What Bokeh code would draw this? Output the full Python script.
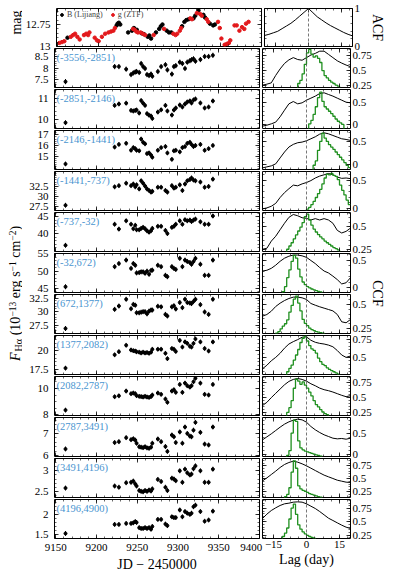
import numpy as np
from bokeh.plotting import figure
from bokeh.layouts import row, column
from bokeh.models import (Range1d, LinearAxis, FixedTicker, Span, Label,
                          Legend, LegendItem, ColumnDataSource)
from bokeh.core.properties import value, field
from bokeh.embed import file_html
from bokeh.resources import INLINE

FONT = "Liberation Serif"

# ---------------- photometry (top panel) ----------------
B_JD = [9162.0, 9222.3, 9223.5, 9225.0, 9226.7, 9236.4, 9241.2, 9243.5, 9247.0, 9253.0,
        9256.0, 9260.5, 9262.4, 9264.5, 9270.5, 9274.5, 9276.5, 9278.5, 9283.7, 9286.5,
        9289.4, 9302.6, 9305.4, 9307.8, 9310.6, 9316.6, 9318.7, 9322.7, 9328.7, 9330.7,
        9336.7, 9340.7, 9342.8]
B_MAG = [12.90, 12.76, 12.74, 12.73, 12.75, 12.84, 12.82, 12.79, 12.81, 12.85,
         12.86, 12.89, 12.875, 12.91, 12.84, 12.80, 12.77, 12.75, 12.82, 12.84,
         12.84, 12.77, 12.72, 12.70, 12.69, 12.68, 12.65, 12.59, 12.64, 12.67,
         12.74, 12.76, 12.75]
G_JD = [9152.0, 9155.2, 9158.1, 9166.0, 9168.9, 9171.3, 9174.1, 9176.9, 9182.2, 9184.9,
        9187.3, 9188.9, 9195.4, 9198.2, 9200.2, 9204.2, 9208.2, 9212.3, 9215.4, 9218.3,
        9220.2, 9242.4, 9244.3, 9246.4, 9248.4, 9251.6, 9254.5, 9257.2, 9267.7, 9280.5,
        9291.8, 9294.6, 9296.6, 9299.8, 9301.4, 9312.7, 9314.7, 9320.7, 9324.7, 9326.7,
        9332.8, 9334.7, 9346.7, 9348.8, 9350.8, 9354.8, 9357.6, 9360.0, 9361.7, 9366.9,
        9369.6, 9372.9, 9376.1, 9378.9, 9381.0, 9384.1]
G_MAG = [12.96, 12.95, 12.94, 12.89, 12.87, 12.855, 12.89, 12.92, 12.87, 12.855,
         12.87, 12.84, 12.90, 12.93, 12.94, 12.89, 12.855, 12.84, 12.83, 12.82,
         12.79, 12.80, 12.81, 12.83, 12.84, 12.84, 12.855, 12.87, 12.87, 12.80,
         12.855, 12.87, 12.855, 12.82, 12.79, 12.68, 12.69, 12.62, 12.63, 12.65,
         12.69, 12.72, 12.72, 12.79, 12.91, 12.98, 12.97, 12.96, 12.93, 12.76,
         12.76, 12.82, 12.78, 12.80, 12.74, 12.72]
B_ERR = 0.008
G_ERR = 0.006

# ---------------- H-alpha velocity-bin light curves ----------------
HA_JD = [9162.0, 9222.3, 9227.5, 9236.4, 9242.4, 9245.2, 9247.6, 9249.2, 9252.4, 9254.8,
         9257.2, 9259.6, 9262.0, 9264.5, 9266.9, 9268.5, 9275.3, 9279.3, 9284.6, 9287.0,
         9292.5, 9295.0, 9297.3, 9302.2, 9305.4, 9308.6, 9311.4, 9314.6, 9316.6, 9319.0,
         9321.4, 9327.5, 9332.7, 9337.6, 9342.8]

BIN_LABELS = ["(-3556,-2851)", "(-2851,-2146)", "(-2146,-1441)", "(-1441,-737)",
              "(-737,-32)", "(-32,672)", "(672,1377)", "(1377,2082)",
              "(2082,2787)", "(2787,3491)", "(3491,4196)", "(4196,4900)"]

FLUX_01 = [7.43, 8.07, 8.07, 7.96, 7.73, 7.80, 7.84, 7.86, 7.82, 8.20, 8.07, 7.99, 7.73, 7.69, 7.75, 7.66, 7.86, 8.07, 8.15, 7.93, 7.75, 8.07, 8.11, 8.26, 8.20, 7.99, 8.26, 8.32, 8.36, 8.40, 8.30, 8.37, 8.50, 8.50, 8.55]
FLUX_02 = [9.82, 10.68, 10.75, 10.79, 10.43, 10.40, 10.43, 10.45, 10.30, 10.92, 10.79, 10.68, 10.27, 10.19, 10.15, 10.03, 10.35, 10.46, 10.68, 10.40, 10.20, 10.45, 10.55, 10.70, 10.60, 10.75, 10.85, 10.90, 10.80, 10.95, 11.00, 10.80, 10.55, 10.60, 10.90]
FLUX_03 = [14.27, 15.85, 16.10, 16.20, 15.55, 15.80, 15.70, 15.55, 15.50, 16.60, 16.30, 16.15, 15.24, 15.30, 15.10, 14.90, 15.55, 15.80, 15.90, 15.30, 14.70, 15.50, 15.55, 15.40, 15.80, 15.90, 16.20, 16.30, 16.10, 15.90, 16.00, 16.10, 15.55, 15.70, 16.00]
FLUX_04 = [27.75, 32.3, 32.6, 33.2, 32.6, 33.0, 32.3, 32.8, 31.8, 33.8, 33.2, 32.5, 31.8, 31.4, 31.0, 31.2, 32.2, 32.2, 31.4, 31.0, 32.6, 32.0, 32.2, 32.8, 31.4, 33.0, 33.8, 34.1, 34.5, 34.0, 33.8, 33.5, 32.2, 32.4, 34.2]
FLUX_05 = [36.7, 42.8, 41.4, 43.8, 42.8, 41.5, 42.5, 41.2, 41.2, 41.6, 41.9, 41.5, 40.9, 40.5, 40.9, 41.6, 42.2, 42.2, 41.0, 40.1, 41.9, 42.2, 42.8, 43.8, 42.8, 44.1, 43.8, 44.0, 43.6, 44.0, 44.3, 43.5, 42.8, 42.8, 45.2]
FLUX_06 = [45.5, 51.3, 52.2, 53.2, 50.8, 52.2, 51.7, 49.5, 49.6, 49.8, 49.8, 49.4, 50.0, 49.1, 50.2, 50.3, 51.7, 51.3, 48.8, 48.4, 51.3, 50.8, 50.5, 53.7, 51.3, 53.2, 52.8, 52.5, 52.0, 52.8, 53.7, 52.0, 48.8, 48.8, 53.2]
FLUX_07 = [26.89, 30.43, 31.05, 32.3, 30.55, 31.35, 31.2, 29.8, 29.8, 29.9, 30.0, 30.0, 29.6, 30.1, 30.3, 30.3, 31.0, 30.9, 29.5, 29.2, 30.9, 31.1, 30.5, 31.7, 30.75, 32.3, 31.7, 31.6, 31.5, 31.9, 32.3, 31.3, 29.95, 29.5, 32.3]
FLUX_08 = [17.63, 19.44, 19.87, 20.74, 20.1, 20.0, 19.95, 19.85, 19.8, 19.7, 19.8, 19.7, 19.75, 19.65, 19.8, 20.2, 20.2, 20.2, 19.65, 18.92, 20.3, 20.2, 19.9, 21.4, 20.5, 21.2, 21.0, 20.6, 20.5, 21.0, 21.6, 21.2, 20.3, 19.96, 21.2]
FLUX_09 = [8.36, 9.37, 9.44, 9.8, 9.6, 9.65, 9.6, 9.45, 9.4, 9.38, 9.35, 9.4, 9.35, 9.32, 9.38, 9.5, 9.65, 9.55, 9.2, 8.95, 9.8, 9.9, 9.7, 10.3, 9.7, 10.4, 10.2, 10.1, 10.2, 10.5, 10.77, 10.4, 9.55, 9.5, 10.3]
FLUX_10 = [6.30, 6.59, 6.63, 6.81, 6.72, 6.76, 6.70, 6.56, 6.40, 6.38, 6.36, 6.40, 6.35, 6.33, 6.38, 6.56, 6.75, 6.63, 6.41, 6.19, 6.93, 6.85, 6.59, 7.07, 6.56, 7.29, 7.00, 6.88, 6.85, 7.15, 7.50, 7.05, 6.52, 6.48, 7.29]
FLUX_11 = [2.58, 2.63, 2.60, 2.71, 2.72, 2.75, 2.68, 2.63, 2.52, 2.50, 2.49, 2.52, 2.50, 2.53, 2.51, 2.56, 2.79, 2.74, 2.60, 2.52, 2.82, 2.80, 2.76, 3.00, 2.72, 3.04, 2.95, 2.90, 2.92, 3.05, 3.12, 3.00, 2.72, 2.72, 3.04]
FLUX_12 = [1.525, 1.75, 1.75, 1.775, 1.775, 1.79, 1.82, 1.80, 1.67, 1.65, 1.65, 1.67, 1.65, 1.67, 1.63, 1.70, 1.875, 1.875, 1.76, 1.72, 1.94, 1.92, 1.92, 2.11, 1.94, 2.07, 2.03, 2.0, 2.03, 2.19, 2.23, 2.07, 1.83, 1.86, 2.08]
FLUXES = [FLUX_01, FLUX_02, FLUX_03, FLUX_04, FLUX_05, FLUX_06,
          FLUX_07, FLUX_08, FLUX_09, FLUX_10, FLUX_11, FLUX_12]
FLUX_ERR = [0.11, 0.12, 0.22, 0.6, 0.7, 0.72, 0.46, 0.32, 0.18, 0.11, 0.06, 0.06]

# ---------------- ACF / CCF (lag grid, days) ----------------
LAGS = [-20, -18, -16, -14, -12, -10, -8, -6, -4, -2, 0, 2, 4, 6, 8, 10, 12, 14, 16, 18, 20]
ACF = [0.29, 0.32, 0.36, 0.40, 0.47, 0.54, 0.61, 0.70, 0.80, 0.90, 1.0, 0.89, 0.78, 0.70, 0.62, 0.55, 0.49, 0.43, 0.37, 0.32, 0.28]
CCF_01 = [0.25, 0.266, 0.288, 0.413, 0.522, 0.614, 0.674, 0.712, 0.68, 0.668, 0.712, 0.755, 0.783, 0.82, 0.82, 0.766, 0.712, 0.658, 0.62, 0.587, 0.56]
CCF_02 = [-0.028, -0.007, 0.023, 0.06, 0.178, 0.324, 0.464, 0.515, 0.464, 0.486, 0.545, 0.589, 0.634, 0.691, 0.707, 0.67, 0.634, 0.589, 0.545, 0.50, 0.486]
CCF_03 = [-0.071, -0.049, -0.027, 0.017, 0.148, 0.278, 0.387, 0.446, 0.482, 0.496, 0.525, 0.569, 0.613, 0.671, 0.70, 0.678, 0.642, 0.605, 0.569, 0.554, 0.533]
CCF_04 = [-0.006, 0.011, 0.04, 0.091, 0.195, 0.281, 0.35, 0.414, 0.402, 0.436, 0.46, 0.494, 0.54, 0.574, 0.597, 0.62, 0.597, 0.557, 0.534, 0.54, 0.529]
CCF_05 = [0.253, 0.264, 0.343, 0.397, 0.469, 0.541, 0.606, 0.638, 0.624, 0.602, 0.595, 0.577, 0.592, 0.577, 0.592, 0.577, 0.541, 0.462, 0.433, 0.451, 0.487]
CCF_06 = [0.303, 0.317, 0.352, 0.409, 0.479, 0.535, 0.571, 0.592, 0.592, 0.578, 0.55, 0.493, 0.437, 0.366, 0.303, 0.268, 0.211, 0.148, 0.07, 0.091, 0.183]
CCF_07 = [0.378, 0.395, 0.429, 0.477, 0.511, 0.538, 0.559, 0.573, 0.573, 0.566, 0.549, 0.508, 0.49, 0.474, 0.46, 0.446, 0.432, 0.395, 0.32, 0.31, 0.344]
CCF_08 = [0.34, 0.388, 0.45, 0.497, 0.554, 0.625, 0.682, 0.715, 0.743, 0.776, 0.781, 0.734, 0.706, 0.691, 0.682, 0.667, 0.644, 0.592, 0.53, 0.497, 0.516]
CCF_09 = [0.364, 0.42, 0.5, 0.573, 0.646, 0.719, 0.776, 0.81, 0.826, 0.81, 0.781, 0.736, 0.702, 0.662, 0.635, 0.618, 0.595, 0.567, 0.539, 0.516, 0.533]
CCF_10 = [0.351, 0.421, 0.492, 0.57, 0.648, 0.719, 0.773, 0.813, 0.836, 0.82, 0.765, 0.664, 0.586, 0.523, 0.469, 0.429, 0.39, 0.374, 0.383, 0.366, 0.39]
CCF_11 = [0.462, 0.52, 0.585, 0.65, 0.721, 0.779, 0.817, 0.844, 0.824, 0.792, 0.753, 0.708, 0.662, 0.617, 0.573, 0.54, 0.508, 0.475, 0.456, 0.437, 0.431]
CCF_12 = [0.564, 0.646, 0.714, 0.764, 0.808, 0.839, 0.851, 0.87, 0.876, 0.87, 0.839, 0.795, 0.751, 0.695, 0.633, 0.57, 0.527, 0.483, 0.44, 0.402, 0.377]
CCFS = [CCF_01, CCF_02, CCF_03, CCF_04, CCF_05, CCF_06,
        CCF_07, CCF_08, CCF_09, CCF_10, CCF_11, CCF_12]

# scaled CCCD histograms: 1-day bins, (left edge of first non-empty bin, heights)
CCCD_01 = (-4, [0.277, 0.33, 0.44, 0.60, 0.79, 0.85, 0.77, 0.72, 0.74, 0.70, 0.63, 0.495, 0.41, 0.37, 0.33, 0.30, 0.277, 0.25, 0.234])
CCCD_02 = (1, [0.023, 0.10, 0.23, 0.40, 0.60, 0.72, 0.52, 0.40, 0.35, 0.30, 0.25, 0.19, 0.13, 0.08, 0.045, 0.01])
CCCD_03 = (3, [-0.013, 0.082, 0.314, 0.51, 0.69, 0.584, 0.51, 0.439, 0.387, 0.337, 0.278, 0.22, 0.162, 0.104, 0.046, -0.013, -0.064])
CCCD_04 = (0, [-0.012, 0.022, 0.069, 0.126, 0.195, 0.264, 0.339, 0.436, 0.54, 0.609, 0.597, 0.62, 0.586, 0.569, 0.511, 0.414, 0.322, 0.241, 0.149, 0.069])
CCCD_05 = (-9, [0.253, 0.289, 0.325, 0.368, 0.412, 0.455, 0.498, 0.548, 0.613, 0.642, 0.577, 0.52, 0.476, 0.444, 0.415, 0.39, 0.368, 0.343, 0.325, 0.307, 0.289, 0.271, 0.26, 0.246])
CCCD_06 = (-11, [-0.071, 0.021, 0.183, 0.324, 0.479, 0.585, 0.535, 0.338, 0.197, 0.105, 0.056, 0.021, 0.0, -0.022, -0.036, -0.05, -0.064, -0.074])
CCCD_07 = (-14, [0.204, 0.22, 0.248, 0.276, 0.30, 0.34, 0.42, 0.488, 0.552, 0.584, 0.512, 0.432, 0.344, 0.304, 0.28, 0.256, 0.24, 0.23, 0.22, 0.214, 0.208, 0.204])
CCCD_08 = (-9, [0.298, 0.346, 0.39, 0.46, 0.53, 0.606, 0.703, 0.762, 0.792, 0.724, 0.66, 0.616, 0.595, 0.557, 0.487, 0.438, 0.40, 0.384, 0.352, 0.33, 0.314, 0.298, 0.282, 0.265])
CCCD_09 = (-9, [0.248, 0.328, 0.448, 0.66, 0.813, 0.78, 0.727, 0.767, 0.714, 0.661, 0.594, 0.528, 0.448, 0.381, 0.341, 0.295, 0.255, 0.228, 0.208])
CCCD_10 = (-9, [-0.013, 0.097, 0.509, 0.811, 0.784, 0.326, 0.161, 0.116, 0.088, 0.07, 0.052, 0.033, 0.015, -0.003, -0.017, -0.031])
CCCD_11 = (-10, [0.155, 0.2, 0.329, 0.631, 0.85, 0.706, 0.366, 0.306, 0.276, 0.261, 0.238, 0.215, 0.2, 0.185, 0.17, 0.155, 0.148])
CCCD_12 = (-11, [0.227, 0.292, 0.387, 0.555, 0.759, 0.832, 0.643, 0.446, 0.365, 0.314, 0.278, 0.248, 0.227, 0.212, 0.197])
CCCDS = [CCCD_01, CCCD_02, CCCD_03, CCCD_04, CCCD_05, CCCD_06,
         CCCD_07, CCCD_08, CCCD_09, CCCD_10, CCCD_11, CCCD_12]

# ---------------- axes ----------------
JD_TICKS = [9150, 9200, 9250, 9300, 9350, 9400]
LAG_TICKS = [-15, 0, 15]
LEFT_YLIM = [(13.0, 12.568), (7.18, 8.84), (9.53, 11.47), (13.75, 17.4), (26.45, 36.1),
             (34.9, 46.2), (43.84, 55.1), (25.96, 33.18), (16.76, 22.07), (7.95, 10.9),
             (5.96, 7.72), (2.35, 3.30), (1.40, 2.37)]
LEFT_TICKS = [[12.75, 13.0], [7.5, 8.0, 8.5], [10, 11], [15, 16, 17], [27.5, 30, 32.5],
              [40, 45], [45, 50, 55], [27.5, 30, 32.5], [17.5, 20], [8, 10], [6, 7],
              [2.5, 3.0], [1.5, 2.0]]
LEFT_MINOR = [0.05, 0.1, 0.2, 0.2, 0.5, 1, 1, 0.5, 0.5, 0.5, 0.2, 0.1, 0.1]
RIGHT_YLIM = [(0, 1), (0.21, 0.865), (-0.08, 0.78), (-0.107, 0.751), (-0.035, 0.655),
              (0.228, 0.66), (-0.085, 0.62), (0.2, 0.6), (0.26, 0.80), (0.195, 0.86),
              (-0.04, 0.875), (0.14, 0.895), (0.19, 0.92)]
RIGHT_TICKS = [[0, 1], [0.25, 0.5, 0.75], [0, 0.5], [0, 0.5], [0, 0.5], [0.25, 0.5],
               [0, 0.5], [0.25, 0.5], [0.5, 0.75], [0.25, 0.5, 0.75], [0, 0.5],
               [0.25, 0.5, 0.75], [0.25, 0.5, 0.75]]
RIGHT_MINOR = [0.2, 0.05, 0.1, 0.1, 0.1, 0.05, 0.1, 0.05, 0.05, 0.05, 0.1, 0.05, 0.05]

LABEL_BLUE = "#4a95d0"
GREEN = "#1e8f1e"

# ---------------- geometry (page content area 382 x 571) ----------------
LW, RW = 205, 88
FH = [38] + [39] * 12
NROW = 13
TOPM = 8
PAD = 6          # border kept around each frame (overlaps the neighbour, transparent)
BOTTOM = 33
OVER_V = 2 * PAD - 2
OVER_H = 20
LLAB_W = 22
RLAB_OVER = 10
CONTENT_W = 382
L_BORDER_L, L_BORDER_R = 32, 11
R_BORDER_L, R_BORDER_R = 12, 22


def ticker(major, step, pad=30):
    lo = min(major) - pad * step
    n = int(round((max(major) - min(major)) / step)) + 2 * pad
    minor = [round(lo + k * step, 6) for k in range(n + 1)]
    return FixedTicker(ticks=list(major), minor_ticks=minor)


def style_axis(ax, show, standoff=4):
    ax.axis_line_color = None
    ax.major_tick_in = 4
    ax.major_tick_out = 0
    ax.minor_tick_in = 2
    ax.minor_tick_out = 0
    ax.major_tick_line_color = "black"
    ax.minor_tick_line_color = "black"
    ax.major_tick_line_width = 0.8
    ax.minor_tick_line_width = 0.6
    ax.major_label_text_font = FONT
    if show:
        ax.major_label_text_color = "black"
        ax.major_label_text_font_size = "11px"
        ax.major_label_standoff = standoff
    else:
        ax.major_label_text_color = None
        ax.major_label_text_font_size = "1px"
        ax.major_label_standoff = 0
    ax.axis_label_text_font = FONT
    ax.axis_label_text_font_style = "normal"
    ax.axis_label_text_font_size = "14px"
    ax.axis_label_text_color = "black"
    ax.axis_label_standoff = 1


def make_panel(fw, fh, xr, yr, xt, yt, yside, ml, mr, mt, mb, show_x, ystand):
    p = figure(frame_width=fw, frame_height=fh, x_range=xr, y_range=yr,
               output_backend="svg", toolbar_location=None,
               min_border_left=ml, min_border_right=mr,
               min_border_top=mt, min_border_bottom=mb,
               y_axis_location=yside)
    p.xgrid.visible = False
    p.ygrid.visible = False
    p.outline_line_color = "black"
    p.outline_line_width = 1
    p.outline_line_alpha = 1
    p.background_fill_color = "white"
    p.border_fill_alpha = 0
    xb = p.below[0]
    ym = (p.left if yside == "left" else p.right)[0]
    xb.ticker = xt
    ym.ticker = yt
    style_axis(xb, show_x, standoff=2)
    style_axis(ym, True, standoff=ystand)
    top = LinearAxis(ticker=xt)
    style_axis(top, False)
    p.add_layout(top, "above")
    other = LinearAxis(ticker=yt)
    style_axis(other, False)
    p.add_layout(other, "right" if yside == "left" else "left")
    return p, xb, ym


rows = []
edges = np.arange(-20, 21, 1)
for i in range(NROW):
    first = i == 0
    last = i == NROW - 1
    mt = TOPM if first else PAD
    mb = BOTTOM if last else PAD
    # ---- left: light curve ----
    lp, lx, ly = make_panel(LW, FH[i], Range1d(9148.5, 9400), Range1d(*LEFT_YLIM[i]),
                            ticker(JD_TICKS, 10), ticker(LEFT_TICKS[i], LEFT_MINOR[i]),
                            "left", L_BORDER_L, L_BORDER_R, mt, mb, last, 6)
    # ---- right: ACF / CCF ----
    rp, rx, ry = make_panel(RW, FH[i], Range1d(-20, 20), Range1d(*RIGHT_YLIM[i]),
                            ticker(LAG_TICKS, 3.75), ticker(RIGHT_TICKS[i], RIGHT_MINOR[i]),
                            "right", R_BORDER_L, R_BORDER_R, mt, mb, last, 2)
    rp.margin = (0, 0, 0, -OVER_H)
    rp.add_layout(Span(location=0, dimension="height", line_color="#555555",
                       line_dash="3 2", line_width=0.8))
    if first:
        lp.segment(x0=B_JD, x1=B_JD, y0=[m - B_ERR for m in B_MAG],
                   y1=[m + B_ERR for m in B_MAG], line_color="black", line_width=1)
        rB = lp.scatter(B_JD, B_MAG, size=3.5, color="black")
        lp.segment(x0=G_JD, x1=G_JD, y0=[m - G_ERR for m in G_MAG],
                   y1=[m + G_ERR for m in G_MAG], line_color="#e3191c", line_width=1)
        rg = lp.scatter(G_JD, G_MAG, size=3.5, color="#e3191c")
        leg = Legend(items=[LegendItem(label="B (Lijiang)", renderers=[rB]),
                            LegendItem(label="g (ZTF)", renderers=[rg])],
                     location="top_left", orientation="horizontal",
                     margin=1, padding=1, spacing=6, glyph_width=7, glyph_height=7,
                     label_standoff=2, label_height=7,
                     label_text_font=FONT, label_text_font_size="8px",
                     background_fill_alpha=0, border_line_alpha=0)
        lp.add_layout(leg)
        rp.line(LAGS, ACF, line_color="black", line_width=1)
    else:
        k = i - 1
        fl = FLUXES[k]
        e = FLUX_ERR[k]
        lp.segment(x0=HA_JD, x1=HA_JD, y0=[v - e for v in fl], y1=[v + e for v in fl],
                   line_color="black", line_width=1)
        lp.scatter(HA_JD, fl, size=3, color="black")
        lp.add_layout(Label(x=9148.5, y=LEFT_YLIM[i][1], x_offset=2, y_offset=-3,
                            text=BIN_LABELS[k], text_font=FONT, text_font_size="10.5px",
                            text_color=LABEL_BLUE, text_baseline="top", text_align="left"))
        rp.line(LAGS, CCFS[k], line_color="black", line_width=1)
        start, vals = CCCDS[k]
        full = np.full(len(edges) - 1, -5.0)
        i0 = start + 20
        full[i0:i0 + len(vals)] = vals
        xs = np.repeat(edges, 2)[1:-1]
        ys = np.repeat(full, 2)
        rp.line(xs, ys, line_color=GREEN, line_width=1.3)
    if last:
        lx.axis_label = "JD \u2212 2450000"
        lx.major_label_overrides = {9400: "9400" + "\u00a0" * 3}
        rx.axis_label = "Lag (day)"
        rx.major_label_overrides = {-15: "\u221215", 0: "0", 15: "15"}
    rows.append(row(lp, rp, margin=(0 if first else -OVER_V, 0, 0, 0)))

H = (TOPM + FH[0] + PAD) + sum(f + 2 for f in FH[1:-1]) + (FH[-1] + BOTTOM - PAD + 2)
MAIN_W = (L_BORDER_L + LW + L_BORDER_R) + (R_BORDER_L + RW + R_BORDER_R) - OVER_H
RLAB_X0 = LLAB_W + MAIN_W - RLAB_OVER          # left edge of the right strip
RLAB_W = CONTENT_W - RLAB_X0
MID_LOWER = (TOPM + FH[0] + 2 + H - BOTTOM) / 2   # centre of the CCF rows


def label_fig(w, h):
    p = figure(width=w, height=h, x_range=Range1d(0, w), y_range=Range1d(0, h),
               output_backend="svg", toolbar_location=None, min_border=0,
               x_axis_type=None, y_axis_type=None)
    p.outline_line_color = None
    p.background_fill_alpha = 0
    p.border_fill_alpha = 0
    return p


# left label strip: "mag" and F_Halpha label (composite, rotated)
llab = label_fig(LLAB_W, H)
llab.text(x=[15.5], y=[H - 22], text=["mag"], angle=np.pi / 2,
          text_font=value(FONT), text_font_size=value("14px"),
          text_align="center", text_baseline="alphabetic", text_color="black")
PIECES = ["F", "H\u03b1", "(10", "\u221213", "erg", "s", "\u22121", "cm", "\u22122", ")"]
P_SIZE = ["14px", "10px", "14px", "9.5px", "14px", "14px", "9.5px", "14px", "9.5px", "14px"]
P_STYLE = ["italic", "normal", "normal", "normal", "normal", "normal", "normal", "normal", "normal", "normal"]
P_SHIFT = [0, 2.5, 0, -3.5, 0, 0, -3.5, 0, -3.5, 0]
P_ADV = [9.6, 16.2, 18.7, 18.4, 21.4, 5.4, 13.6, 17.1, 10.1, 4.7]
y0 = (H - MID_LOWER) - sum(P_ADV) / 2
ys_lab = list(y0 + np.concatenate([[0], np.cumsum(P_ADV)[:-1]]))
src = ColumnDataSource(dict(x=[15 + s for s in P_SHIFT], y=ys_lab, text=PIECES,
                            size=P_SIZE, style=P_STYLE))
llab.text(x="x", y="y", text="text", source=src, angle=np.pi / 2,
          text_font=value(FONT), text_font_size=field("size"),
          text_font_style=field("style"), text_align="left",
          text_baseline="alphabetic", text_color="black")

# right label strip: "ACF" and "CCF" (overlaps the transparent right borders)
rlab = label_fig(RLAB_W, H)
rlab.margin = (0, 0, 0, -RLAB_OVER)
rlab.text(x=[RLAB_W - 7, RLAB_W - 7], y=[H - 27, H - MID_LOWER], text=["ACF", "CCF"],
          angle=-np.pi / 2, text_font=value(FONT), text_font_size=value("14px"),
          text_align="center", text_baseline="middle", text_color="black")

main = column(*rows)
page = row(llab, main, rlab)

open("out.html", "w").write(file_html(page, INLINE, title="Halpha reverberation"))
